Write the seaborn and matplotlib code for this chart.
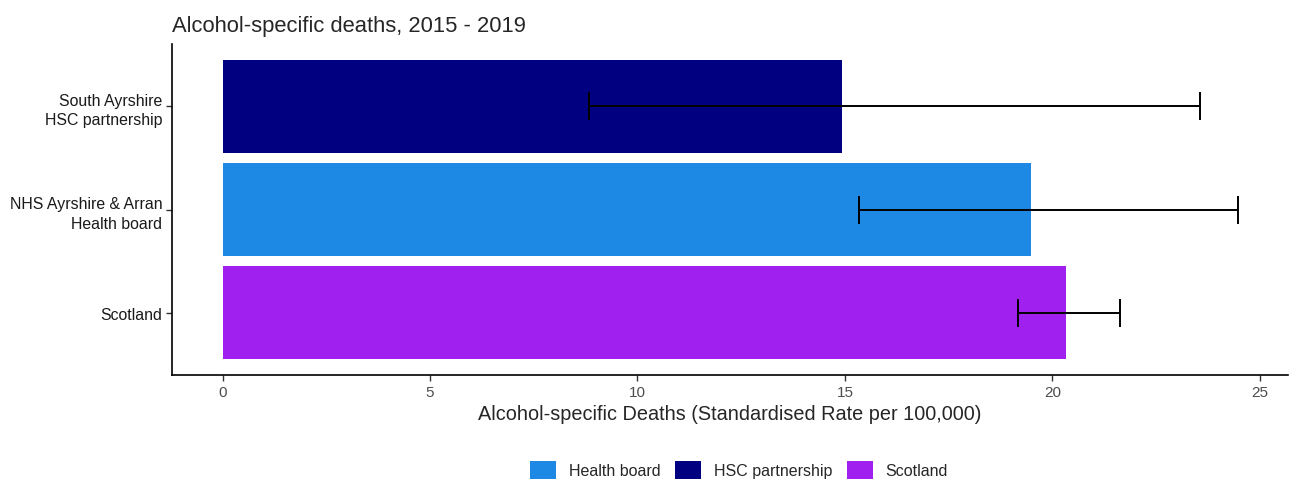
import matplotlib
matplotlib.use("Agg")
import matplotlib.pyplot as plt
import seaborn as sns
import pandas as pd
from matplotlib.patches import Patch

areas = ["South Ayrshire\nHSC partnership", "NHS Ayrshire & Arran\nHealth board", "Scotland"]
area_types = ["HSC partnership", "Health board", "Scotland"]
rates = [14.92, 19.48, 20.33]
lower_ci = [8.84, 15.33, 19.16]
upper_ci = [23.57, 24.47, 21.63]
legend_order = ["Health board", "HSC partnership", "Scotland"]
palette = {"Health board": "#1E88E5", "HSC partnership": "#000080", "Scotland": "#A020F0"}

df = pd.DataFrame({"area": areas, "type": area_types, "rate": rates})

sns.set_style("white")
plt.rcParams["font.family"] = ["Liberation Sans", "DejaVu Sans"]

fig = plt.figure(figsize=(12.9, 4.81), dpi=100)
ax = fig.add_axes([172/1290, 1 - 376/481, (1288-172)/1290, (376-45)/481])

sns.barplot(data=df, y="area", x="rate", hue="type", order=areas, hue_order=legend_order,
            palette=palette, dodge=False, width=0.9, orient="h", ax=ax, legend=False,
            saturation=1, linewidth=0)

ypos = list(range(len(areas)))
xerr = [[r - l for r, l in zip(rates, lower_ci)], [u - r for r, u in zip(rates, upper_ci)]]
ax.errorbar(rates, ypos, xerr=xerr, fmt="none", ecolor="black", elinewidth=1.4,
            capsize=10, capthick=1.4)

ax.set_xlim(-1.22, 25.68)
ax.set_ylim(2.6, -0.6)
ax.set_xticks([0, 5, 10, 15, 20, 25])
ax.tick_params(axis="x", labelsize=11, length=4, width=1, labelcolor="#4d4d4d", pad=3)
ax.tick_params(axis="y", labelsize=11.4, length=4, width=1, labelcolor="#1a1a1a", pad=3)
ax.tick_params(axis="both", which="major", bottom=True, left=True, color="#333333")
for lab in ax.get_yticklabels():
    lab.set_linespacing(1.4)
for s in ["top", "right"]:
    ax.spines[s].set_visible(False)
for s in ["left", "bottom"]:
    ax.spines[s].set_color("black")
    ax.spines[s].set_linewidth(1.2)
ax.set_ylabel("")
ax.set_xlabel("Alcohol-specific Deaths (Standardised Rate per 100,000)", fontsize=14.3, labelpad=4)
ax.set_title("Alcohol-specific deaths, 2015 - 2019", loc="left", fontsize=15.8, pad=9)

handles = [Patch(facecolor=palette[k], edgecolor="none", label=k) for k in legend_order]
fig.legend(handles=handles, loc="center", bbox_to_anchor=(739/1290, 1 - 471/481), ncol=3,
           frameon=False, fontsize=11.5, handlelength=1.63, handleheight=1.4, columnspacing=0.9,
           handletextpad=0.8)

fig.savefig("out.png", dpi=100)
